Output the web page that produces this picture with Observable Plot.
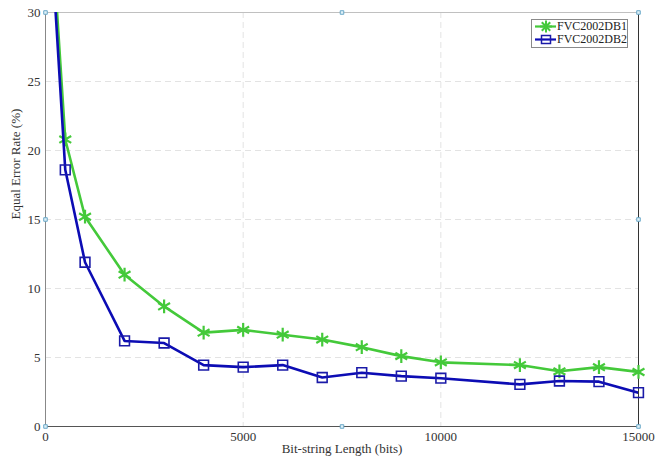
<!DOCTYPE html>
<html>
<head>
<meta charset="utf-8">
<script src="https://cdn.jsdelivr.net/npm/d3@7"></script>
<script src="https://cdn.jsdelivr.net/npm/@observablehq/plot@0.6"></script>
<style>
  body { margin: 0; background: #fff; }
  #wrap { position: relative; width: 665px; height: 461px; font-family: "Liberation Serif", "DejaVu Serif", serif; }
  #wrap svg text { font-family: "Liberation Serif", "DejaVu Serif", serif; }
  #legend { position: absolute; left: 531px; top: 19px; width: 95px; height: 27px; border: 1px solid #8a8a8a; background: #fff; font-size: 12px; color: #222; font-family: "Liberation Serif", serif; }
  .row { display: flex; align-items: center; height: 13px; }
  .row svg { margin-left: 3px; margin-right: 1px; }
</style>
</head>
<body>
<div id="wrap"></div>
<script>
const bitLengths = [0, 500, 1000, 2000, 3000, 4000, 5000, 6000, 7000, 8000, 9000, 10000, 12000, 13000, 14000, 15000];
const db1 = [43, 20.8, 15.2, 11.0, 8.7, 6.8, 7.0, 6.65, 6.3, 5.75, 5.1, 4.65, 4.45, 4.0, 4.3, 3.95];
const db2 = [42, 18.6, 11.9, 6.2, 6.05, 4.45, 4.3, 4.45, 3.55, 3.9, 3.65, 3.5, 3.05, 3.3, 3.25, 2.45];
const seriesNames = ["FVC2002DB1", "FVC2002DB2"];
const seriesColors = ["#44c93a", "#0c0cb4"];
const xTicks = [0, 5000, 10000, 15000];
const yTicks = [0, 5, 10, 15, 20, 25, 30];
const anchorX = [0, 7500, 15000, 0, 15000, 0, 7500, 15000];
const anchorY = [0, 0, 0, 15, 15, 30, 30, 30];

const d1 = bitLengths.map((x, i) => ({x, y: db1[i]}));
const d2 = bitLengths.map((x, i) => ({x, y: db2[i]}));
const anchors = anchorX.map((x, i) => ({x, y: anchorY[i]}));
const serif = "'Liberation Serif', serif";

const chart = Plot.plot({
  width: 665,
  height: 461,
  marginLeft: 45,
  marginRight: 27,
  marginTop: 12,
  marginBottom: 35,
  style: {fontFamily: serif, fontSize: "13px", color: "#333", background: "#fff"},
  x: {domain: [0, 15000], ticks: xTicks},
  y: {domain: [0, 30], ticks: yTicks},
  marks: [
    Plot.gridX(xTicks.slice(1, -1), {stroke: "#e3e3e3", strokeOpacity: 1, strokeDasharray: "6,4"}),
    Plot.gridY(yTicks.slice(1, -1), {stroke: "#e3e3e3", strokeOpacity: 1, strokeDasharray: "6,4"}),
    Plot.ruleY([30], {stroke: "#c0c0c0"}),
    Plot.ruleX([0], {stroke: "#888"}),
    Plot.ruleX([15000], {stroke: "#333"}),
    Plot.ruleY([0], {stroke: "#555"}),
    Plot.axisX(xTicks, {tickSize: 0, tickPadding: 5, label: null, fill: "#333", fontSize: 13, tickFormat: d => String(d)}),
    Plot.axisY(yTicks, {tickSize: 0, tickPadding: 5, label: null, fill: "#333", fontSize: 13, tickFormat: d => String(d)}),
    Plot.line(d1, {x: "x", y: "y", stroke: seriesColors[0], strokeWidth: 2.6, clip: true}),
    Plot.dot(d1.slice(1), {x: "x", y: "y", symbol: "asterisk", r: 6.5, stroke: seriesColors[0], strokeWidth: 2.2}),
    Plot.line(d2, {x: "x", y: "y", stroke: seriesColors[1], strokeWidth: 2.6, clip: true}),
    Plot.dot(d2.slice(1), {x: "x", y: "y", symbol: "square", r: 5.5, stroke: "#1a1aa8", fill: "none", strokeWidth: 1.6}),
    Plot.dot(anchors, {x: "x", y: "y", symbol: "square", r: 2, stroke: "#6aa8c8", fill: "#dff0f8", strokeWidth: 1}),
    Plot.text(["Equal Error Rate (%)"], {frameAnchor: "left", dx: -30, rotate: -90, fontSize: 13, fill: "#333"}),
    Plot.text(["Bit-string Length (bits)"], {frameAnchor: "bottom", dy: 26, fontSize: 13, fill: "#333"})
  ]
});

const wrap = document.getElementById("wrap");
wrap.appendChild(chart);

const legend = document.createElement("div");
legend.id = "legend";
seriesNames.forEach((name, i) => {
  const row = document.createElement("div");
  row.className = "row";
  const sym = i === 0
    ? `<g stroke="${seriesColors[0]}" stroke-width="2"><line x1="5" y1="6.5" x2="17" y2="6.5"/><line x1="11" y1="0.5" x2="11" y2="12.5"/><line x1="6.8" y1="2.3" x2="15.2" y2="10.7"/><line x1="15.2" y1="2.3" x2="6.8" y2="10.7"/></g>`
    : `<rect x="6.5" y="2.5" width="9" height="8" fill="none" stroke="#1a1aa8" stroke-width="1.5"/>`;
  row.innerHTML = `<svg width="22" height="13"><line x1="0" y1="6.5" x2="22" y2="6.5" stroke="${seriesColors[i]}" stroke-width="2.2"/>${sym}</svg><span>${name}</span>`;
  legend.appendChild(row);
});
wrap.appendChild(legend);
</script>
</body>
</html>
